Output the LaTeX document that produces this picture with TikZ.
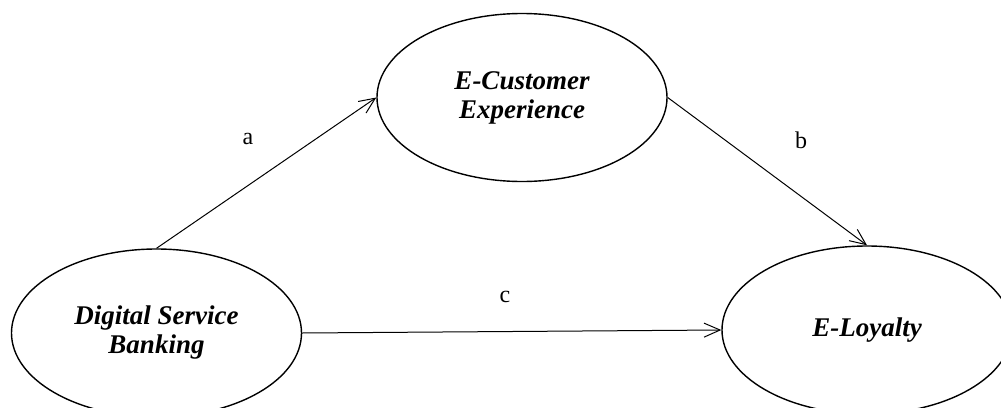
\documentclass[tikz,border=0pt]{standalone}
\usepackage{fontspec}
\setmainfont{Liberation Serif}
\usetikzlibrary{arrows.meta,shapes.geometric}

\tikzset{
  construct/.style={ellipse, draw=black, line width=1.4pt, minimum width=290pt,
    minimum height=168pt, inner sep=0pt, align=center,
    font=\fontsize{27}{29}\selectfont\bfseries\itshape},
  path/.style={draw=black, line width=1pt, -{Straight Barb[length=16pt,width=14pt,line width=1pt]}},
  pathlabel/.style={font=\fontsize{24}{26}\selectfont, inner sep=0pt}
}

\begin{document}
\begin{tikzpicture}[x=1pt, y=-1pt]
  \useasboundingbox (0,0) rectangle (1001,407);

  \node[construct] (ecx) at (522,97.5) {E-Customer\\Experience};
  \node[construct] (dsb) at (156.5,333) {Digital Service\\Banking};
  \node[construct] (el)  at (867,330) {E-Loyalty};

  \draw[path] (dsb.north) -- (ecx.west);
  \draw[path] (ecx.east) -- (el.north);
  \draw[path] (dsb.east) -- (el.west);

  \node[pathlabel] (la) at (248,139) {a};
  \node[pathlabel] (lb) at (801,140) {b};
  \node[pathlabel] (lc) at (505,297) {c};
\end{tikzpicture}
\end{document}
